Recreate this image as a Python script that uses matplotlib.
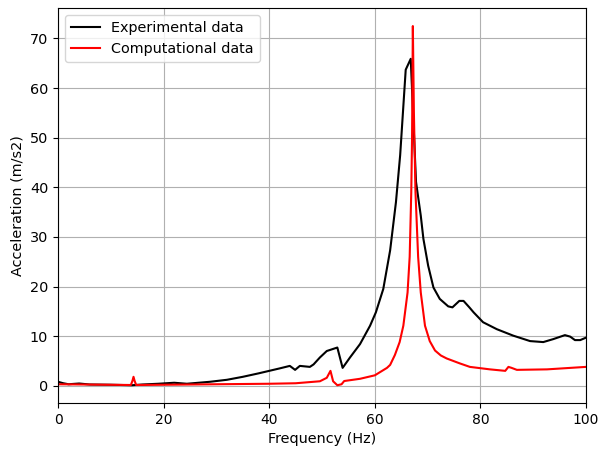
import numpy as np
import matplotlib.pyplot as plt

plt.rcParams['font.size'] = 10.4

# values
exp_freq = [0, 1, 2, 4, 6, 10, 14, 16, 19, 22, 24.4, 28.8, 32, 35, 38, 40, 42,
            43.9, 44.9, 45.8, 47.7, 48.4, 49.6, 50.9, 52.9, 53.9, 55.3, 57.2,
            59.1, 60.2, 61.6, 62.9, 64.0, 64.8, 65.85, 66.8, 67.8, 68.7, 69.2,
            70.1, 71.1, 72.3, 73.9, 74.7, 76.0, 76.8, 77.9, 78.7, 80.5, 83.1,
            86.2, 89.4, 91.9, 93.8, 96.0, 97.0, 97.9, 98.9, 100]
exp_acc = [0.8, 0.5, 0.3, 0.45, 0.25, 0.2, 0.1, 0.25, 0.4, 0.6, 0.4, 0.8, 1.2,
           1.8, 2.5, 3.0, 3.5, 4.0, 3.2, 4.0, 3.8, 4.3, 5.7, 7.0, 7.7, 3.6,
           5.7, 8.4, 12.1, 14.8, 19.5, 27.3, 37.0, 46.5, 63.7, 65.9, 41.1,
           34.3, 29.6, 24.2, 19.8, 17.5, 16.0, 15.8, 17.1, 17.1, 15.8, 14.8,
           12.8, 11.4, 10.1, 9.0, 8.8, 9.4, 10.2, 9.9, 9.2, 9.2, 9.7]

comp_freq = [0, 5, 13.8, 14.1, 14.3, 14.5, 14.8, 20, 30, 40, 45, 49.6, 50.9,
             51.6, 52.1, 52.9, 53.7, 54.2, 57.2, 60.0, 62.3, 62.9, 63.8, 64.7,
             65.4, 66.2, 66.6, 66.9, 67.05, 67.2, 67.4, 67.7, 68.2, 68.7, 69.5,
             70.4, 71.4, 72.5, 73.6, 76.1, 78.0, 81.8, 84.7, 85.3, 85.9, 86.9,
             92.6, 100]
comp_acc = [0.3, 0.25, 0.15, 1.0, 1.8, 1.0, 0.15, 0.2, 0.3, 0.4, 0.5, 0.9,
            1.6, 3.0, 0.9, 0.1, 0.3, 0.95, 1.4, 2.1, 3.6, 4.2, 6.2, 8.8, 12.1,
            18.8, 26.0, 39.0, 50.0, 72.5, 55.0, 39.0, 26.0, 18.8, 12.1, 9.0,
            7.1, 6.1, 5.5, 4.5, 3.8, 3.3, 3.0, 3.8, 3.6, 3.2, 3.3, 3.8]

fig = plt.figure(figsize=(5.98, 4.5), dpi=100)
ax = fig.add_axes([0.097, 0.104, 0.883, 0.878])
ax.plot(exp_freq, exp_acc, color='black', label='Experimental data')
ax.plot(comp_freq, comp_acc, color='red', label='Computational data')
ax.set_xlim(0, 100)
ax.set_xlabel('Frequency (Hz)')
ax.set_ylabel('Acceleration (m/s2)')
ax.tick_params(axis='x', labelsize=10)
ax.grid(True)
ax.legend(loc='upper left')
fig.savefig('out.png')
